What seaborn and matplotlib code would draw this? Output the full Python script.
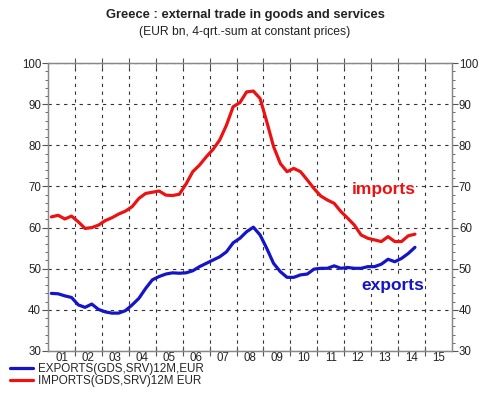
import numpy as np
import pandas as pd
import seaborn as sns
import matplotlib.pyplot as plt
from matplotlib.ticker import MultipleLocator, FixedLocator, NullFormatter, FixedFormatter

# quarterly data 2001Q1 - 2014Q3, EUR bn, 4-qrt sum
imports = [62.6, 63.0, 62.1, 62.8,
           61.4, 59.8, 60.0, 60.6,
           61.7, 62.4, 63.3, 64.0,
           65.1, 67.1, 68.3, 68.6,
           68.9, 67.9, 67.8, 68.1,
           70.6, 73.6, 75.2, 77.2,
           79.0, 81.3, 84.9, 89.4,
           90.4, 93.0, 93.2, 91.4,
           85.7, 79.7, 75.6, 73.6,
           74.4, 73.6, 71.6, 69.5,
           67.7, 66.7, 65.9, 63.9,
           62.3, 60.6, 58.2, 57.4,
           57.0, 56.6, 57.8, 56.6,
           56.6, 58.0, 58.4]
exports = [44.0, 43.9, 43.4, 43.0,
           41.2, 40.6, 41.4, 40.1,
           39.5, 39.2, 39.2, 39.8,
           41.2, 42.8, 45.2, 47.3,
           48.1, 48.7, 49.0, 48.9,
           49.0, 49.5, 50.5, 51.3,
           52.1, 52.9, 54.1, 56.3,
           57.4, 59.0, 60.1, 58.2,
           54.9, 51.3, 49.3, 47.9,
           47.9, 48.5, 48.7, 49.9,
           50.1, 50.1, 50.7, 50.1,
           50.3, 50.1, 50.1, 50.5,
           50.5, 51.1, 52.3, 51.7,
           52.5, 53.7, 55.2]
years = list(range(2001, 2016))
year_labels = ['01', '02', '03', '04', '05', '06', '07', '08', '09', '10', '11', '12', '13', '14', '15']

t = [2001 + (i + 0.5) / 4 for i in range(len(imports))]
df = pd.DataFrame({'t': t + t,
                   'value': exports + imports,
                   'series': ['EXPORTS(GDS,SRV)12M,EUR'] * len(t) + ['IMPORTS(GDS,SRV)12M EUR'] * len(t)})

sns.set_theme(style='white')
plt.rcParams['font.family'] = ['Liberation Sans', 'DejaVu Sans']

fig = plt.figure(figsize=(5, 3.97), dpi=100)
ax = fig.add_axes([0.096, 0.116, 0.808, 0.725])

blue = '#1414c8'
red = '#ec1212'
colors = {'EXPORTS(GDS,SRV)12M,EUR': blue, 'IMPORTS(GDS,SRV)12M EUR': red}
sns.lineplot(data=df, x='t', y='value', hue='series', palette=colors, linewidth=2.3, ax=ax, legend=False)

ax.set_xlim(2001, 2016)
ax.set_ylim(30, 100)
ax.set_xlabel('')
ax.set_ylabel('')

# grid and ticks
ax.xaxis.set_major_locator(FixedLocator(years[1:]))
ax.xaxis.set_major_formatter(NullFormatter())
ax.xaxis.set_minor_locator(FixedLocator([y + 0.5 for y in years]))
ax.xaxis.set_minor_formatter(FixedFormatter(year_labels))
ax.yaxis.set_major_locator(MultipleLocator(10))
ax.yaxis.set_minor_locator(MultipleLocator(2))
ax.tick_params(axis='x', which='major', direction='inout', length=7, width=0.8, color='#555555', top=True, bottom=True)
ax.tick_params(axis='x', which='minor', length=0, labelsize=8.3, pad=1, labelcolor='#222222')
ax.tick_params(axis='y', which='major', direction='out', length=4, width=0.8, color='#555555', labelsize=8.3, pad=1, labelcolor='#222222')
ax.tick_params(axis='y', which='minor', direction='out', length=2, width=0.6, color='#555555')
ax.grid(True, which='major', linestyle=(0, (3, 4)), color='#333333', linewidth=0.8)
for s in ax.spines.values():
    s.set_color('#888888')
    s.set_linewidth(0.9)

ax2 = ax.twinx()
ax2.set_ylim(30, 100)
ax2.yaxis.set_major_locator(MultipleLocator(10))
ax2.yaxis.set_minor_locator(MultipleLocator(2))
ax2.tick_params(axis='y', which='major', direction='out', length=4, width=0.8, color='#555555', labelsize=8.3, pad=1, labelcolor='#222222')
ax2.tick_params(axis='y', which='minor', direction='out', length=2, width=0.6, color='#555555')
for s in ax2.spines.values():
    s.set_color('#888888')
    s.set_linewidth(0.9)

bg = dict(facecolor='white', edgecolor='none', pad=0.5)
ax.text(2013.45, 69.2, 'imports', color=red, fontsize=12.5, fontweight='bold', ha='center', va='center', bbox=bg)
ax.text(2013.8, 45.9, 'exports', color=blue, fontsize=12.5, fontweight='bold', ha='center', va='center', bbox=bg)

fig.text(0.49, 0.962, 'Greece : external trade in goods and services', ha='center', va='center',
         fontsize=9.3, fontweight='bold', color='#222222')
fig.text(0.49, 0.92, '(EUR bn, 4-qrt.-sum at constant prices)', ha='center', va='center',
         fontsize=8.7, color='#222222')

# legend below the chart
ax.legend(handles=[plt.Line2D([], [], color=blue, lw=2.3), plt.Line2D([], [], color=red, lw=2.3)],
          labels=['EXPORTS(GDS,SRV)12M,EUR', 'IMPORTS(GDS,SRV)12M EUR'],
          loc='upper left', bbox_to_anchor=(0.02, 0.085), bbox_transform=fig.transFigure,
          frameon=False, fontsize=8.4, handlelength=2.0, handletextpad=0.4, labelspacing=-0.05,
          borderaxespad=0, borderpad=0)

fig.savefig('out.png', dpi=100)
